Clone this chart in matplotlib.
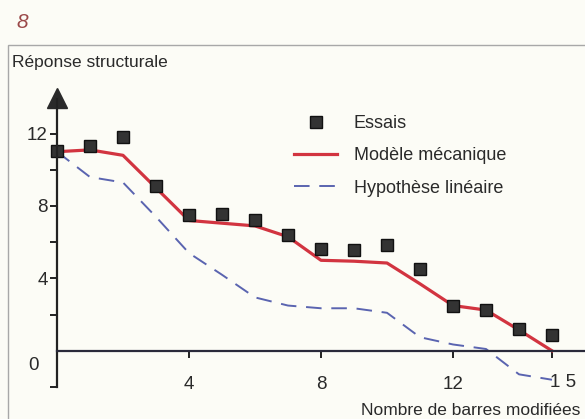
import matplotlib
matplotlib.use("Agg")
import matplotlib.pyplot as plt
from matplotlib.patches import Rectangle
from matplotlib.lines import Line2D

plt.rcParams['font.family'] = ['Liberation Sans Narrow', 'Liberation Sans', 'DejaVu Sans']

# Data
x_vals = list(range(0, 16))
essais = [11.05, 11.3, 11.8, 9.1, 7.5, 7.55, 7.2, 6.4, 5.6, 5.55, 5.85, 4.5, 2.5, 2.25, 1.2, 0.9]
modele = [11.0, 11.1, 10.8, 9.0, 7.2, 7.05, 6.9, 6.3, 5.0, 4.95, 4.85, 3.7, 2.5, 2.25, 1.15, 0.0]
lineaire = [11.0, 9.6, 9.3, 7.4, 5.4, 4.2, 2.95, 2.5, 2.35, 2.35, 2.1, 0.75, 0.35, 0.1, -1.3, -1.6]
y_ticks = [4, 8, 12]
x_ticks = [4, 8, 12, 15]

W, H = 585, 419
bg = '#fcfcf6'
txt = '#2a2a2a'
fig = plt.figure(figsize=(W / 100, H / 100), dpi=100, facecolor=bg)

# frame
fig.add_artist(Rectangle((8 / W, -0.01), 1.1, 1 - 45 / H + 0.01, transform=fig.transFigure,
                         fill=False, edgecolor='#a8a8a8', linewidth=1.0))
fig.text(16 / W, 1 - 22 / H, '8', fontsize=15, style='italic', color='#9a4848',
         va='center', ha='left', family=['Liberation Sans', 'DejaVu Sans'])
fig.text(12 / W, 1 - 62 / H, 'Réponse structurale', fontsize=12.5, color=txt, va='center', ha='left')

x0_px, y0_px = 57, 351
px_x, px_y = 33.0, 18.1
left = x0_px / W
bottom = (H - 387) / H
top = (H - 85) / H
ax = fig.add_axes([left, bottom, 1 - left, top - bottom])
ax.set_facecolor('none')
ax.set_xlim(0, (W - x0_px) / px_x)
ax.set_ylim(-2, -2 + (387 - 85) / px_y)

for s in ['top', 'right']:
    ax.spines[s].set_visible(False)
ax.spines['left'].set_bounds(-2, 13.9)
ax.spines['left'].set_linewidth(1.6)
ax.spines['left'].set_color('#222222')
ax.spines['bottom'].set_position(('data', 0))
ax.spines['bottom'].set_linewidth(1.6)
ax.spines['bottom'].set_color('#2a2a3a')
ax.plot([0], [13.95], marker='^', markersize=14, color='#2a2a2a', clip_on=False)

ax.set_yticks(y_ticks)
ax.set_yticks([-2, 2, 6, 10], minor=True)
ax.tick_params(axis='y', which='both', direction='out', length=5, width=1.4, color='#222222',
               labelsize=13.5, labelcolor=txt, pad=1.5)
ax.text(-0.55, -0.8, '0', fontsize=13.5, color=txt, ha='right', va='center')

ax.set_xticks(x_ticks)
ax.set_xticklabels(['4', '8', '12', ''])
ax.tick_params(axis='x', direction='out', length=5, width=1.4, color='#222222',
               labelsize=13.5, labelcolor=txt, pad=13)
ax.text(15.35, -1.75, '1 5', fontsize=13.5, color=txt, ha='center', va='center')
fig.text(580 / W, 1 - 410 / H, 'Nombre de barres modifiées', fontsize=12.5, color=txt,
         ha='right', va='center')

ax.plot(x_vals, lineaire, color='#5a64b0', linewidth=1.4, dashes=(8, 5), clip_on=False)
ax.plot(x_vals, modele, color='#d23440', linewidth=2.3, clip_on=False)
ax.plot(x_vals, essais, linestyle='none', marker='s', markersize=9, color='#333333',
        markeredgecolor='#111111', clip_on=False)

handles = [
    Line2D([], [], linestyle='none', marker='s', markersize=8, color='#333333', markeredgecolor='#111111'),
    Line2D([], [], color='#d23440', linewidth=2.3),
    Line2D([], [], color='#5a64b0', linewidth=1.4, dashes=(8, 5)),
]
labels = ['Essais', 'Modèle mécanique', 'Hypothèse linéaire']
fig.legend(handles, labels, loc='upper left', bbox_to_anchor=(294 / W, 1 - 115 / H),
           frameon=False, fontsize=13, labelcolor=txt, handlelength=2.4, handletextpad=0.9,
           labelspacing=0.85, borderpad=0, borderaxespad=0)

fig.savefig('out.png', dpi=100, facecolor=bg)
